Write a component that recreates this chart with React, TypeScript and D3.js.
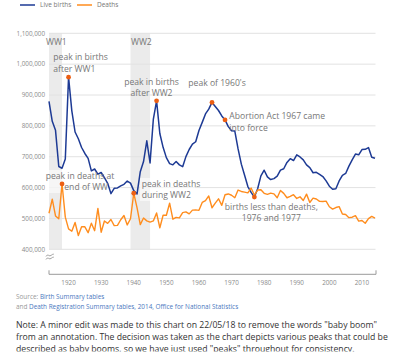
import { useEffect, useRef } from "react";
import * as d3 from "d3";

// England & Wales, 1914-2014
const anioInicio = 1914;
const nacimientos = [
  879096, 814614, 785520, 668346, 662661, 692438, 957782, 848814, 780124, 758131,
  729933, 710582, 694563, 654172, 660267, 643673, 648811, 632081, 613972, 580413,
  597642, 598756, 605292, 610557, 621204, 614479, 590120, 579091, 651503, 684334,
  751478, 679937, 820719, 881026, 775306, 730518, 697097, 677529, 673735, 684372,
  673651, 667811, 700335, 723381, 740715, 748501, 785005, 811281, 838736, 854055,
  875972, 862725, 849823, 832164, 819272, 797538, 784486, 783155, 725440, 675953,
  639885, 603445, 584270, 569259, 596418, 638028, 656234, 634492, 625931, 629134,
  636818, 656417, 661018, 681511, 693577, 687725, 706140, 699217, 689656, 673467,
  664726, 648138, 649485, 643095, 635901, 621872, 604441, 594634, 596122, 621469,
  639721, 645835, 669601, 690013, 708711, 706248, 723165, 723913, 729674, 698512,
  695233,
];
const defunciones = [
  516742, 562253, 508217, 498922, 611861, 504203, 466130, 458629, 486780, 444785,
  473235, 472841, 453804, 484609, 460389, 532492, 455427, 491630, 484129, 496465,
  476810, 477401, 495764, 509574, 478996, 498968, 581615, 535180, 480137, 501412,
  492176, 488017, 491974, 517615, 469898, 510301, 510301, 549380, 497484, 503529,
  501896, 518864, 521331, 514870, 526843, 527651, 526268, 551752, 557636, 572868,
  534737, 549379, 563624, 542516, 576754, 579378, 575194, 567262, 591889, 587478,
  585292, 582841, 598516, 575928, 591977, 593019, 581385, 577890, 581861, 579608,
  566881, 590734, 581203, 566994, 571408, 576872, 564846, 570044, 558313, 578799,
  551780, 565902, 563007, 555281, 555015, 556118, 537877, 530373, 535356, 538254,
  514250, 512692, 502599, 504052, 509090, 491348, 493242, 484367, 499331, 506790,
  501424,
];
const ticksY = [400000, 500000, 600000, 700000, 800000, 900000, 1000000, 1100000];
const ticksX = [1920, 1930, 1940, 1950, 1960, 1970, 1980, 1990, 2000, 2010];
const guerras = [
  { nombre: "WW1", desde: 1914, hasta: 1918 },
  { nombre: "WW2", desde: 1939, hasta: 1945 },
];
const hitosNacimientos = [1920, 1947, 1964, 1968, 1977];
const hitosDefunciones = [1918, 1940];

const AZUL = "#1d3a94";
const NARANJA = "#ff8d1e";
const PUNTO = "#ec5f13";
const GRIS = "#777";
const ENLACE = "#4a78c0";

export default function App() {
  const svgRef = useRef<SVGSVGElement>(null);
  const ANCHO = 400;
  const ALTO = 360;

  useEffect(() => {
    if (!svgRef.current) return;
    const svg = d3.select(svgRef.current);
    svg.selectAll("*").remove();
    svg.attr("font-family", "'Open Sans', sans-serif");

    const anios = d3.range(anioInicio, anioInicio + nacimientos.length);
    const x = d3.scaleLinear().domain([1914, 2014]).range([49, 375]);
    const y = d3.scaleLinear().domain([400000, 1100000]).range([249.3, 33.3]);

    // Leyenda
    const leyenda = [
      { texto: "Live births", color: AZUL, x0: 20 },
      { texto: "Deaths", color: NARANJA, x0: 77 },
    ];
    leyenda.forEach((l) => {
      svg.append("line").attr("x1", l.x0).attr("x2", l.x0 + 15).attr("y1", 5).attr("y2", 5)
        .attr("stroke", l.color).attr("stroke-width", 1.5);
      svg.append("text").attr("x", l.x0 + 20).attr("y", 7.3).attr("font-size", 6.5)
        .attr("fill", GRIS).text(l.texto);
    });

    // Bandas de guerra
    svg.append("g").selectAll("rect").data(guerras).enter().append("rect")
      .attr("x", (d) => x(d.desde))
      .attr("width", (d) => x(d.hasta) - x(d.desde))
      .attr("y", y(1100000))
      .attr("height", y(400000) - y(1100000))
      .attr("fill", "#ebebeb");

    // Rejilla
    svg.append("g").selectAll("line").data(ticksY).enter().append("line")
      .attr("x1", 49).attr("x2", 375.5)
      .attr("y1", (d) => y(d)).attr("y2", (d) => y(d))
      .attr("stroke", "#e2e2e2").attr("stroke-width", 1);

    svg.append("g").selectAll("text").data(ticksY).enter().append("text")
      .attr("x", 45).attr("y", (d) => y(d) + 2.3)
      .attr("text-anchor", "end").attr("font-size", 6.3).attr("fill", "#8a8a8a")
      .text((d) => d3.format(",")(d));

    // Eje X
    const ejeY = 274.3;
    svg.append("path")
      .attr("d", `M${x(1914)},${ejeY - 4}V${ejeY}H${x(2014) + 1}V${ejeY - 4}`)
      .attr("fill", "none").attr("stroke", "#9a9a9a").attr("stroke-width", 1);
    svg.append("g").selectAll("text").data(ticksX).enter().append("text")
      .attr("x", (d) => x(d)).attr("y", ejeY + 11)
      .attr("text-anchor", "middle").attr("font-size", 6.3).attr("fill", "#8a8a8a")
      .text((d) => d);

    // Corte del eje (≈)
    const corte = svg.append("g").attr("transform", "translate(50,257)")
      .attr("fill", "none").attr("stroke", "#8a8a8a").attr("stroke-width", 0.8);
    [-1.5, 1.5].forEach((dy) => {
      corte.append("path").attr("d", `M-4,${dy + 1}q1.3,-2.4 2.6,-1.2t2.6,0 2.6,-1.2`);
    });

    // Fondos de las anotaciones de defunciones
    svg.append("rect").attr("x", 45).attr("y", 170).attr("width", 63).attr("height", 23)
      .attr("fill", "#fff").attr("opacity", 0.55);
    svg.append("rect").attr("x", 140).attr("y", 178).attr("width", 55).attr("height", 23)
      .attr("fill", "#fff").attr("opacity", 0.55);

    const linea = (serie: number[]) =>
      d3.line<number>().x((_, i) => x(anios[i])).y((d) => y(d))(serie);

    svg.append("path").attr("d", linea(nacimientos)).attr("fill", "none")
      .attr("stroke", AZUL).attr("stroke-width", 1.5).attr("stroke-linejoin", "round");
    svg.append("path").attr("d", linea(defunciones)).attr("fill", "none")
      .attr("stroke", NARANJA).attr("stroke-width", 1.4).attr("stroke-linejoin", "round");

    // Anotaciones
    const nota = (tx: number, ty: number, lineas: string[], ancla = "start") => {
      lineas.forEach((t, i) => {
        svg.append("text").attr("x", tx).attr("y", ty + i * 11.5)
          .attr("font-size", 8.6).attr("fill", GRIS).attr("text-anchor", ancla).text(t);
      });
    };
    nota(46, 44.5, ["WW1"]);
    nota(131, 44.5, ["WW2"]);
    nota(53.3, 60, ["peak in births", "after WW1"]);
    nota(151.5, 84.5, ["peak in births", "after WW2"], "middle");
    nota(188.3, 86, ["peak of 1960's"]);
    nota(229.3, 119, ["Abortion Act 1967 came"]);
    nota(229.3, 130.5, ["into force"]);
    nota(45.7, 178.5, ["peak in deaths at"]);
    nota(64.3, 190, ["end of WW"]);
    nota(141.7, 186.5, ["peak in deaths", "during WW2"]);
    nota(271.3, 209.5, ["births less than deaths,", "1976 and 1977"], "middle");

    // Marcadores
    const puntos = [
      ...hitosNacimientos.map((a) => ({ a, v: nacimientos[a - anioInicio] })),
      ...hitosDefunciones.map((a) => ({ a, v: defunciones[a - anioInicio] })),
    ];
    svg.append("g").selectAll("circle").data(puntos).enter().append("circle")
      .attr("cx", (d) => x(d.a)).attr("cy", (d) => y(d.v)).attr("r", 2.4)
      .attr("fill", PUNTO);

    // Fuente
    const fuente = svg.append("g").attr("font-size", 6.4);
    const f1 = fuente.append("text").attr("x", 16).attr("y", 298.5);
    f1.append("tspan").attr("fill", "#999").text("Source: ");
    f1.append("tspan").attr("fill", ENLACE).text("Birth Summary tables");
    const f2 = fuente.append("text").attr("x", 16).attr("y", 308.5);
    f2.append("tspan").attr("fill", "#999").text("and ");
    f2.append("tspan").attr("fill", ENLACE)
      .text("Death Registration Summary tables, 2014, Office for National Statistics");

    // Nota final
    svg.append("defs").append("clipPath").attr("id", "recorte")
      .append("rect").attr("x", 0).attr("y", 300).attr("width", ANCHO).attr("height", 51.5);
    const notas = [
      "Note: A minor edit was made to this chart on 22/05/18 to remove the words \"baby boom\"",
      "from an annotation. The decision was taken as the chart depicts various peaks that could be",
      "described as baby booms, so we have just used \"peaks\" throughout for consistency.",
    ];
    svg.append("g").attr("clip-path", "url(#recorte)").selectAll("text").data(notas).enter()
      .append("text").attr("x", 16).attr("y", (_, i) => 327.5 + i * 12)
      .attr("font-size", 8.7).attr("fill", "#333").text((d) => d);
  }, []);

  return (
    <svg
      ref={svgRef}
      width={ANCHO}
      height={ALTO}
      viewBox={`0 0 ${ANCHO} ${ALTO}`}
      style={{ position: "absolute", left: 0, top: 0, background: "#fff" }}
    />
  );
}
